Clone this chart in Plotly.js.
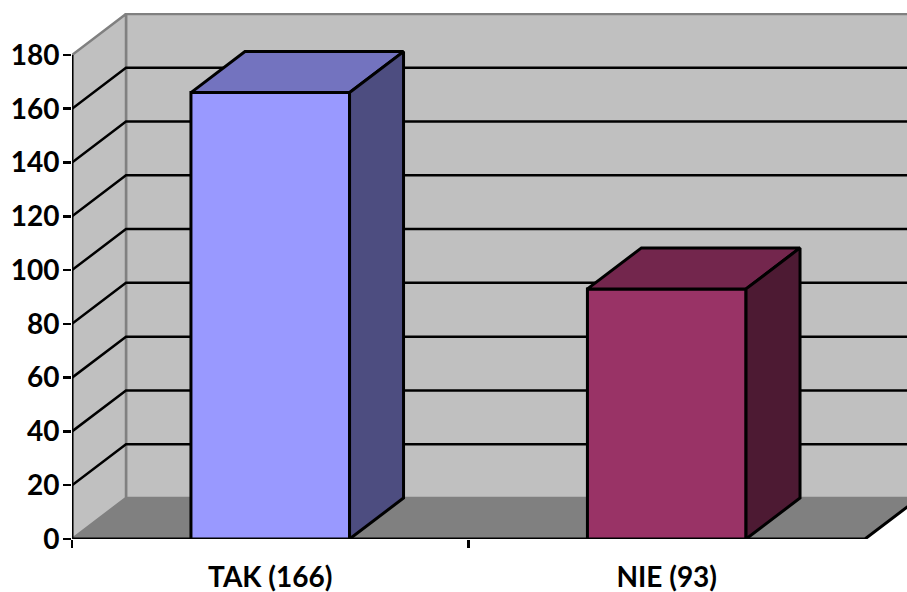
<!DOCTYPE html>
<html><head><meta charset="utf-8">
<script src="https://cdn.plot.ly/plotly-3.0.1.min.js"></script>
<style>html,body{margin:0;padding:0;background:#fff}#c{width:907px;height:592px}</style>
</head><body><div id="c"></div>
<script>
const categories = ['TAK (166)', 'NIE (93)'];
const values = [166, 93];
const yTicks = [0, 20, 40, 60, 80, 100, 120, 140, 160, 180];
const frontColors = ['#9999FF', '#993366'];
const topColors = ['#7373BF', '#73264D'];
const sideColors = ['#4D4D80', '#4D1A33'];

const dx = 54 / 396.5, dy = 41 / 2.689, barW = 0.4;
const xMin = -0.5, xMax = 1.5, yMaxFront = 180;
const xRange = [-0.5, 1.606], yRange = [0, 195.6];

function poly(xs, ys, fill, lineColor, w, xa) {
  return {type:'scatter', mode:'lines', x:xs, y:ys, xaxis:xa, yaxis:'y',
    fill: fill ? 'toself' : 'none', fillcolor: fill || undefined,
    line:{color:lineColor, width:w}, hoverinfo:'skip', showlegend:false};
}
const traces = [];
traces.push(poly([xMin+dx,xMax+dx,xMax+dx,xMin+dx,xMin+dx],[dy,dy,yMaxFront+dy,yMaxFront+dy,dy],'#C0C0C0','#808080',2.5,'x'));
traces.push(poly([xMin,xMin+dx,xMin+dx,xMin,xMin],[0,dy,yMaxFront+dy,yMaxFront,0],'#C0C0C0','#808080',2.5,'x'));
traces.push(poly([xMin,xMax,xMax+dx,xMin+dx,xMin],[0,0,dy,dy,0],'#808080','#808080',1,'x'));
traces.push(poly([xMin,xMax,xMax+dx],[0,0,dy],null,'#000000',3,'x'));
yTicks.filter(v => v > 0 && v < 180).forEach(v => {
  traces.push(poly([xMin,xMin+dx,xMax+dx],[v,v+dy,v+dy],null,'#000000',2.5,'x'));
});
traces.push(poly([xMin,xMin],[0,yMaxFront],null,'#000000',3,'x'));
traces.push({type:'bar', x:categories, y:values, xaxis:'x2', yaxis:'y', width:barW,
  marker:{color:frontColors, line:{color:'#000000', width:3}}, hoverinfo:'skip', showlegend:false});
values.forEach((v,i) => {
  const l = i - barW/2, r = i + barW/2;
  traces.push(poly([l,r,r+dx,l+dx,l],[v,v,v+dy,v+dy,v],topColors[i],'#000000',3,'x3'));
  traces.push(poly([r,r+dx,r+dx,r,r],[0,dy,v+dy,v,0],sideColors[i],'#000000',3,'x3'));
});
const font = {family:'Lato, "Open Sans", sans-serif', size:28, color:'#000000', weight:700};
const layout = {
  width:907, height:592, paper_bgcolor:'#ffffff', plot_bgcolor:'rgba(0,0,0,0)',
  margin:{l:72, r:0, t:12.7, b:53.3, pad:0}, showlegend:false, bargap:0.6,
  xaxis:{type:'linear', range:xRange, tickmode:'array', tickvals:[-0.5, 0.5], showticklabels:false,
    ticks:'outside', ticklen:8, tickwidth:2.5, tickcolor:'#000', showgrid:false, showline:false, zeroline:false, fixedrange:true},
  xaxis2:{type:'category', range:xRange, overlaying:'x', anchor:'y', side:'bottom',
    categoryorder:'array', categoryarray:categories,
    ticks:'outside', ticklen:13, tickwidth:0, tickcolor:'rgba(0,0,0,0)', showgrid:false, showline:false, zeroline:false,
    tickfont:font, fixedrange:true},
  xaxis3:{type:'linear', range:xRange, overlaying:'x', anchor:'y', visible:false, fixedrange:true},
  yaxis:{range:yRange, tickmode:'array', tickvals:yTicks, ticktext:yTicks.map(String),
    ticks:'outside', ticklen:8, tickwidth:2.5, tickcolor:'#000', showgrid:false, zeroline:false, showline:false,
    ticklabelstandoff:-2, tickfont:font, fixedrange:true}
};
Plotly.newPlot('c', traces, layout, {displayModeBar:false, staticPlot:true});
</script></body></html>
